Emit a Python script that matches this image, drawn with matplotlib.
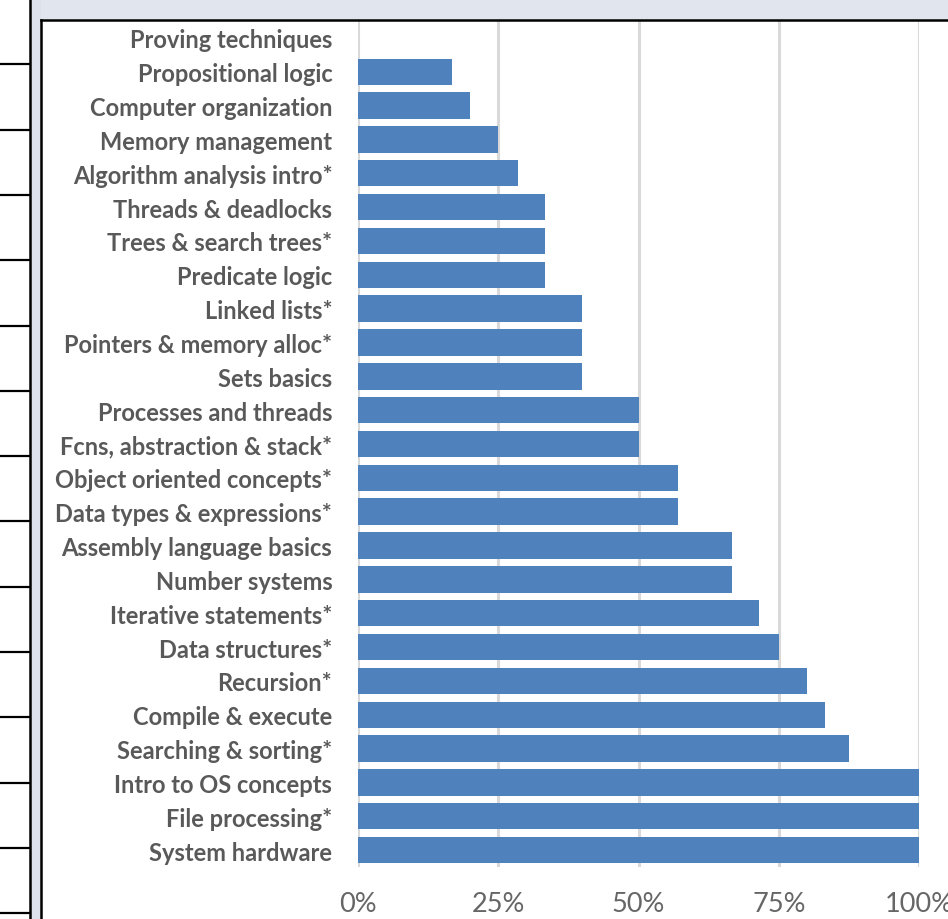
import matplotlib
matplotlib.use("Agg")
import matplotlib.pyplot as plt
from matplotlib.patches import Rectangle
from matplotlib.lines import Line2D
from matplotlib.ticker import PercentFormatter

# topics, top to bottom as shown
topics = [
    "Proving techniques",
    "Propositional logic",
    "Computer organization",
    "Memory management",
    "Algorithm analysis intro*",
    "Threads & deadlocks",
    "Trees & search trees*",
    "Predicate logic",
    "Linked lists*",
    "Pointers & memory alloc*",
    "Sets basics",
    "Processes and threads",
    "Fcns, abstraction & stack*",
    "Object oriented concepts*",
    "Data types & expressions*",
    "Assembly language basics",
    "Number systems",
    "Iterative statements*",
    "Data structures*",
    "Recursion*",
    "Compile & execute",
    "Searching & sorting*",
    "Intro to OS concepts",
    "File processing*",
    "System hardware",
]
share = [
    0.0, 16.7, 20.0, 25.0, 28.6, 33.3, 33.3, 33.3, 40.0, 40.0, 40.0,
    50.0, 50.0, 57.1, 57.1, 66.7, 66.7, 71.4, 75.0, 80.0, 83.3, 87.5,
    100.0, 100.0, 100.0,
]
x_ticks = [0, 25, 50, 75, 100]

W, H = 948, 920
fig = plt.figure(figsize=(W / 100, H / 100), dpi=100)
fig.patch.set_facecolor("white")


def px_rect(x0, y0, x1, y1, color):
    fig.patches.append(Rectangle((x0 / W, 1 - y1 / H), (x1 - x0) / W, (y1 - y0) / H,
                                 transform=fig.transFigure, facecolor=color,
                                 edgecolor="none", zorder=0))


def px_line(x0, y0, x1, y1, color="black", lw=2.0):
    fig.lines.append(Line2D([x0 / W, x1 / W], [1 - y0 / H, 1 - y1 / H],
                            transform=fig.transFigure, color=color, lw=lw, zorder=1))


# spreadsheet surroundings
px_rect(30, 0, W, 21, "#E1E5EE")
px_rect(30, 0, 41, H, "#DDE1EC")
px_line(29.5, 0, 29.5, H, lw=1.8)
px_line(41, 21, 41, H, lw=1.8)
px_line(41, 21, W, 21, lw=1.8)
for k in range(1, 15):
    y = 65.3 * k
    px_line(0, y, 29, y, lw=1.6)

ax = fig.add_axes([358 / W, 1 - 868 / H, (919 - 358) / W, (868 - 22) / H])
ax.set_facecolor("white")
ax.barh(range(len(topics)), share, height=0.78, color="#4F81BD",
        edgecolor="none", zorder=3)
ax.set_ylim(len(topics) - 0.5, -0.5)
ax.set_xlim(0, 100)
ax.set_xticks(x_ticks)
ax.xaxis.set_major_formatter(PercentFormatter(decimals=0))
ax.set_yticks(range(len(topics)))
ax.set_yticklabels(topics)
ax.grid(axis="x", color="#D9D9D9", lw=2.2, zorder=0)
for s in ax.spines.values():
    s.set_visible(False)
ax.tick_params(axis="both", length=0)
ax.tick_params(axis="y", pad=18.5, labelsize=17, labelcolor="#595959")
ax.tick_params(axis="x", pad=17, labelsize=19.5, labelcolor="#666666")
for lab in ax.get_yticklabels():
    lab.set_fontfamily("Lato")
    lab.set_fontweight("bold")
for lab in ax.get_xticklabels():
    lab.set_fontfamily("Lato")

fig.savefig("out.png", dpi=100, facecolor=fig.get_facecolor())
